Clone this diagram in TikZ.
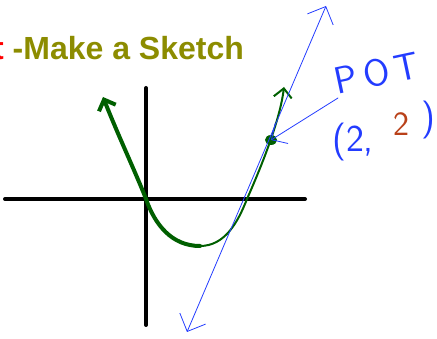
\documentclass[tikz,border=0pt]{standalone}
\usepackage{fontspec}
\newfontfamily\titlefont{Liberation Sans}
\usetikzlibrary{arrows.meta}
\definecolor{titleolive}{RGB}{140,140,0}
\definecolor{curvegreen}{RGB}{0,95,0}
\definecolor{inkblue}{RGB}{35,60,255}
\definecolor{inkbrown}{RGB}{185,65,25}
\tikzset{
    barb/.style={-{Straight Barb[length=#1,width=2*#1]}},
    ink/.style={inkblue, inner sep=0pt, font=\sffamily\fontsize{38}{42}\selectfont}
}
\begin{document}
\begin{tikzpicture}[x=1pt, y=-1pt, line cap=round, line join=round]
    \useasboundingbox (0,0) rectangle (437,339);

    % Titel
    \node[anchor=base west, inner sep=0pt, font=\titlefont\bfseries\fontsize{32}{38}\selectfont] (title) at (-7,60)
        {\textcolor{red}{t} \textcolor{titleolive}{-Make a Sketch}};

    % Achsen
    \draw[black, line width=4] (5,199) -- (305,199);
    \draw[black, line width=4] (146,88) -- (146,325);

    % Parabel
    \coordinate (V) at (200,246);
    \draw[curvegreen, line width=4, barb=9] (V) .. controls (172,246) and (155,225) .. (146,199)
        .. controls (138,178) and (118,135) .. (103,97);
    \draw[curvegreen, line width=2, barb=9] (V) .. controls (225,246) and (238,222) .. (247,199)
        .. controls (262,165) and (280,120) .. (284,87);

    % Punkt und Tangente
    \coordinate (P) at (271,140);
    \fill[curvegreen] (P) ellipse (6 and 5);
    \coordinate (T1) at (187,332);
    \coordinate (T2) at (326,6);
    \draw[inkblue, line width=0.8, {Straight Barb[length=14,width=28]}-{Straight Barb[length=14,width=28]}] (T1) -- (T2);

    % Beschriftung
    \node[ink, rotate=12] (pot) at (377,73) {P\hspace{6pt}O\hspace{6pt}T};
    \node[ink, anchor=base west] (pair) at (332,152) {(2,};
    \node[inkbrown, inner sep=0pt, font=\sffamily\fontsize{34}{38}\selectfont] (ycoord) at (401,124) {2};
    \node[ink] (close) at (428,120) {)};
    \coordinate (A) at (338,98);
    \draw[inkblue, line width=0.8, barb=12] (A) -- (P);
\end{tikzpicture}
\end{document}
